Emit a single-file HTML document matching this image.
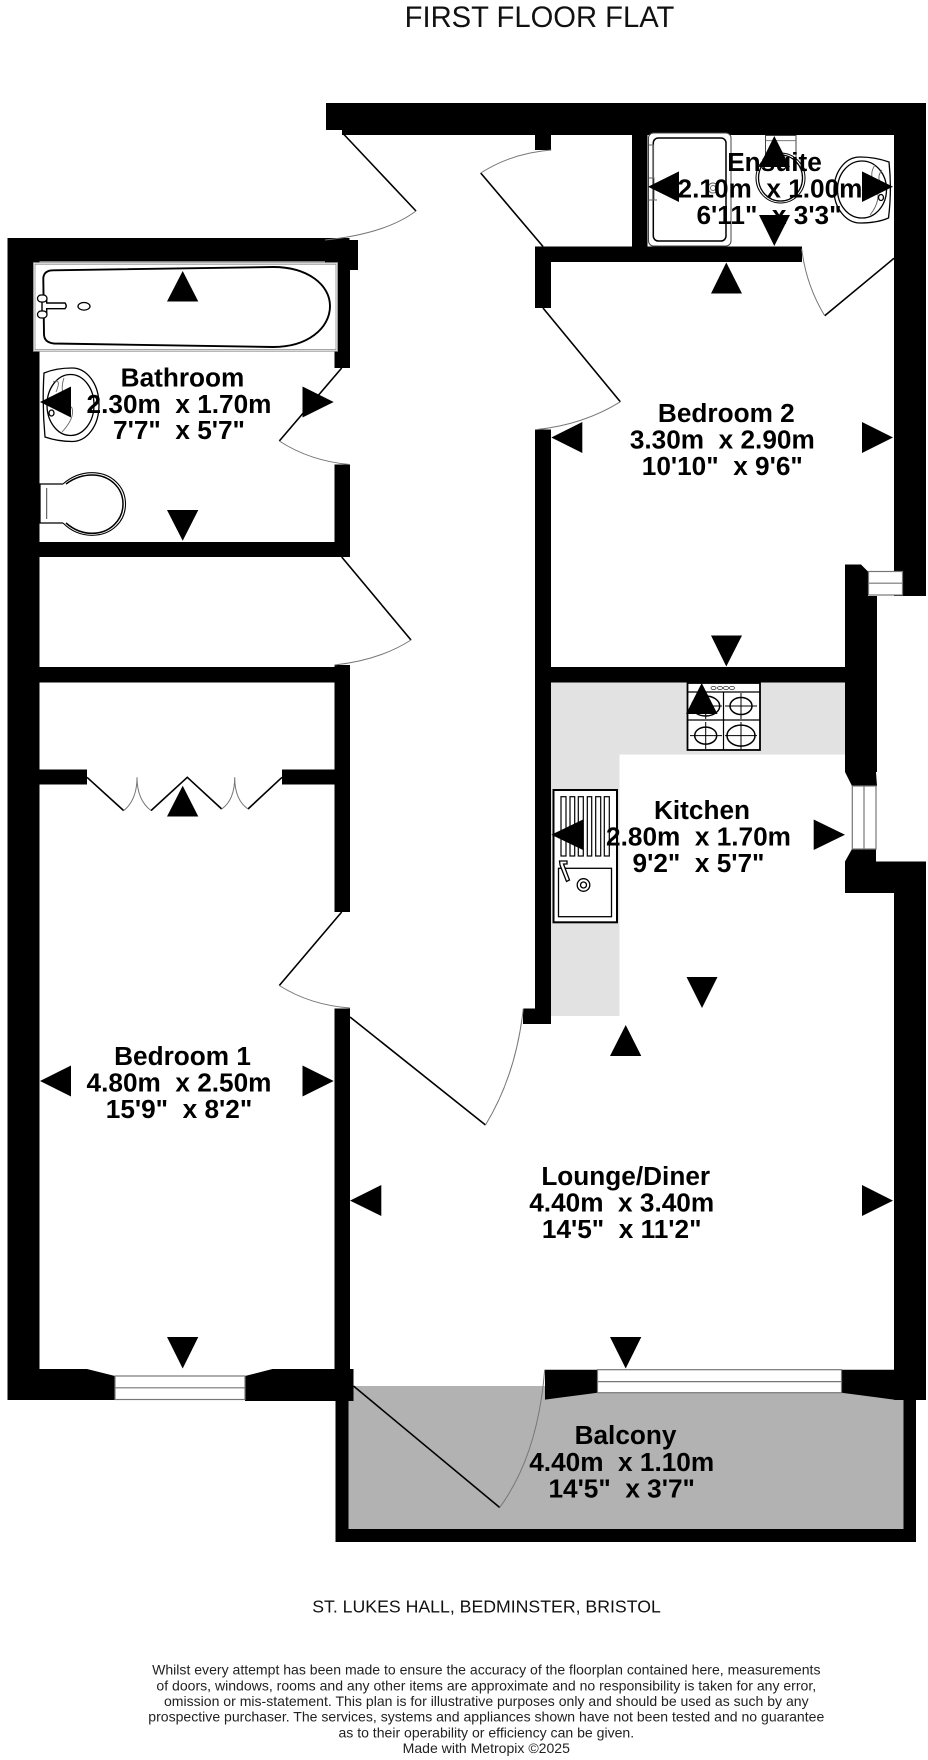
<!DOCTYPE html>
<html lang="en">
<head>
<meta charset="utf-8">
<title>First Floor Flat</title>
<style>
html,body{margin:0;padding:0;background:#fff}
svg{display:block}
text{font-family:"Liberation Sans",sans-serif;white-space:pre}
.r{font-weight:700;font-size:26.2px;fill:#000;text-anchor:middle}
.d{font-size:14.05px;fill:#222;text-anchor:middle}
.door{fill:none;stroke:#000;stroke-width:1.6}
.arc{fill:none;stroke:#777;stroke-width:1}
.fx{fill:#fff;stroke:#000;stroke-width:1.3}
.g{fill:none;stroke:#666;stroke-width:0.9}
</style>
</head>
<body>
<svg xmlns="http://www.w3.org/2000/svg" width="928" height="1760" viewBox="0 0 928 1760">
<rect width="928" height="1760" fill="#fff"/>

<!-- fills -->
<rect x="348" y="1386" width="556" height="144" fill="#b2b2b2"/>
<path d="M551 682H845V754.5H619.5V1016H551Z" fill="#e2e2e2"/>

<!-- walls -->
<g fill="#000">
<!-- top wall -->
<rect x="326" y="103" width="600" height="27"/>
<rect x="342" y="103" width="584" height="32"/>
<rect x="894" y="103" width="32" height="493"/>
<rect x="535" y="130" width="16" height="20"/>
<rect x="632" y="130" width="15.5" height="120"/>
<rect x="535" y="246.5" width="267" height="15.5"/>
<rect x="535" y="246.5" width="16" height="61.5"/>
<!-- centre wall -->
<rect x="535" y="429.5" width="16" height="594.5"/>
<rect x="523" y="1008.5" width="28" height="15.5"/>
<rect x="551" y="667" width="300" height="15.5"/>
<!-- right upper chimney -->
<path d="M845 564.5H861L868 571.5V596H877V772H876L877 786H852L845 772Z"/>
<path d="M852 849H876V861.5H926V1400H894V893H845V861.5Z"/>
<!-- left block -->
<rect x="7.5" y="238" width="32" height="1162"/>
<rect x="7.5" y="238" width="342" height="23.5"/>
<rect x="325" y="240" width="33" height="30"/>
<rect x="334.5" y="262" width="15.5" height="106"/>
<rect x="334.5" y="464.5" width="15.5" height="92.5"/>
<rect x="39" y="542" width="311" height="15"/>
<rect x="39" y="667" width="296" height="15.5"/>
<rect x="334.5" y="665" width="15.5" height="247"/>
<rect x="39" y="769.5" width="48" height="15"/>
<rect x="282" y="769.5" width="53" height="15"/>
<rect x="334.5" y="1008.5" width="15.5" height="361"/>
<!-- bedroom 1 bottom wall -->
<path d="M7.5 1369H87L115 1376V1400H7.5Z"/>
<path d="M245 1376L272.5 1369H353.5V1401H245Z"/>
<!-- balcony walls -->
<rect x="335.5" y="1400" width="13" height="142"/>
<rect x="335.5" y="1529" width="580.5" height="13"/>
<rect x="903.5" y="1400" width="12.5" height="142"/>
<!-- lounge window jambs -->
<path d="M545 1369.7H597.5V1392.7L545 1399.6Z"/>
<path d="M841.5 1369.7H894V1399.6L841.5 1392.7Z"/>
</g>

<!-- windows -->
<g fill="#fff" stroke="#777" stroke-width="1.2">
<rect x="115" y="1376" width="130" height="23.5"/>
<path d="M115 1387.8H245" fill="none"/>
<rect x="597.5" y="1369.7" width="244" height="23"/>
<path d="M597.5 1381.6H841.5" fill="none"/>
<rect x="868.5" y="571.5" width="34" height="23.5"/>
<path d="M868.5 583.2H902.5" fill="none"/>
<rect x="852.3" y="786" width="23.7" height="63"/>
<path d="M864 786V849" fill="none"/>
</g>

<!-- doors -->
<path class="door" d="M343.5 134L416 211"/>
<path class="arc" d="M416 211Q385 234 325 240"/>
<path class="door" d="M341.7 368L279.3 441"/>
<path class="arc" d="M279.3 441Q310 461 349.7 464.5"/>
<path class="door" d="M341.7 557L411 640"/>
<path class="arc" d="M411 640Q380 660 334.5 665"/>
<path class="door" d="M341.7 912L279.3 985.5"/>
<path class="arc" d="M279.3 985.5Q310 1005 350 1008"/>
<path class="door" d="M350 1017L485.5 1125"/>
<path class="arc" d="M485.5 1125Q516 1075 523.3 1008.5"/>
<path class="door" d="M353.5 1386L499.7 1507.5"/>
<path class="arc" d="M499.7 1507.5Q538 1455 544.7 1369.7"/>
<path class="door" d="M543 246.5L480.7 173"/>
<path class="arc" d="M480.7 173Q512 153 551.3 150"/>
<path class="door" d="M543 308L620.3 401.8"/>
<path class="arc" d="M620.3 401.8Q583 425 535.3 429.7"/>
<path class="door" d="M894 258.3L824.7 315.7"/>
<path class="arc" d="M824.7 315.7Q806 285 801.7 248.7"/>
<!-- closet bifold -->
<path class="door" d="M87 777.3L123.7 810.6M151 810.6L187.3 777.3L221.7 809M248 809L282 777.3"/>
<path class="arc" d="M123.7 810.6Q137 800 137 777.3Q137 800 151 810.6M221.7 809Q234.7 800 234.7 777.3Q234.7 800 248 809"/>

<!-- bath -->
<rect x="33.5" y="262.7" width="304" height="88.5" fill="#fff" stroke="#999" stroke-width="1"/>
<rect x="35" y="264.2" width="301" height="85.5" fill="none" stroke="#777" stroke-width="0.7"/>
<path fill="#fff" stroke="#000" stroke-width="1.9" d="M43.3 278Q44 270.3 53.3 270.3L273 267C308 267 330 285 330 306C330 328 308 347 273 347L54 343.5Q44 342.5 44 334Z"/>
<path fill="#fff" stroke="#000" stroke-width="1.4" d="M46.7 303H65Q67.5 306 65 308.7H46.7V313H42V299H46.7Z"/>
<rect x="37.5" y="295" width="9.5" height="7" rx="3.5" class="fx"/>
<rect x="37.5" y="311" width="9.5" height="7" rx="3.5" class="fx"/>
<ellipse cx="84" cy="306.3" rx="6" ry="3.8" class="fx"/>

<!-- bathroom basin -->
<path class="fx" d="M44 373Q56 368 72 368C87 368 99 384 99 405C99 426 87 441.5 72 441.5Q58 441.5 45 437Q42 405 44 373Z"/>
<ellipse cx="70.5" cy="405" rx="23.5" ry="30.5" class="fx"/>
<path class="g" d="M53 382Q62 378 56 392M64 378Q58 395 72 408Q75 418 62 432"/>
<ellipse cx="51.5" cy="413" rx="2.5" ry="3" class="fx"/>

<!-- bathroom toilet -->
<path class="fx" d="M63 484H40V523H63"/>
<path d="M46.7 488V519" stroke="#444" stroke-width="1" fill="none"/>
<path fill="#fff" stroke="#000" stroke-width="1.1" d="M63 484C72 476 82 472.7 92 472.7C112 472.7 125.5 487 125.5 504C125.5 521 112 535.3 92 535.3C82 535.3 72 532 63 523"/>
<path fill="none" stroke="#000" stroke-width="1.5" d="M66 484C74 478 83 475 92 475C110 475 123 488 123 504C123 520 110 533.3 92 533.3C83 533.3 74 530 66 523"/>

<!-- ensuite shower -->
<rect x="648.5" y="133" width="82.5" height="113" rx="5" fill="#fff" stroke="#444" stroke-width="1"/>
<rect x="653.3" y="138" width="72.7" height="103" rx="5" fill="#fff" stroke="#000" stroke-width="1.5"/>
<path class="g" d="M649 145H653.5V178H649M649 178H654V200H649M649 200H657"/>
<circle cx="713" cy="188" r="5" class="g"/>
<circle cx="713" cy="188" r="2.5" class="g"/>

<!-- ensuite toilet -->
<rect x="765.5" y="135.5" width="30.5" height="30" fill="#fff" stroke="#444" stroke-width="1"/>
<path d="M766 140.7H796" class="g"/>
<ellipse cx="780.5" cy="178" rx="24.5" ry="25" fill="#fff" stroke="#000" stroke-width="1"/>
<ellipse cx="780.5" cy="178" rx="22" ry="23" fill="#fff" stroke="#000" stroke-width="1.3"/>

<!-- ensuite basin -->
<path class="fx" d="M889 162Q875 157 860 157C845 157 834 172 834 190C834 208 846 223 860 223Q877 223 888.5 218Q892 190 889 162Z"/>
<ellipse cx="862" cy="189.5" rx="24.5" ry="28.5" class="fx"/>
<path class="g" d="M875 165Q868 175 876 186Q882 200 870 215M882 170Q877 176 880 182"/>
<ellipse cx="881" cy="197.5" rx="2.5" ry="3" class="fx"/>

<!-- hob -->
<g fill="none" stroke="#000">
<rect x="687.5" y="683" width="72.5" height="67" fill="#fff" stroke-width="1.8"/>
<path d="M687.5 692H760M723.5 692V750M687.5 720H760" stroke-width="1.2"/>
<ellipse cx="705.7" cy="706" rx="14" ry="10" stroke-width="1.5"/>
<ellipse cx="741" cy="706" rx="11" ry="8.5" stroke-width="1.5"/>
<ellipse cx="705.7" cy="735.6" rx="11" ry="8.5" stroke-width="1.5"/>
<ellipse cx="741" cy="735.6" rx="14" ry="10.5" stroke-width="1.5"/>
<path d="M705.7 693V719M690 706H722M741 693V719M725 706H757M705.7 722V749M690 735.6H722M741 722V749M725 735.6H757" stroke-width="1"/>
<g stroke-width="0.8" stroke="#333"><ellipse cx="713.5" cy="688" rx="2.5" ry="1.6"/><ellipse cx="720" cy="688" rx="2.5" ry="1.6"/><ellipse cx="726" cy="688" rx="2.5" ry="1.6"/><ellipse cx="732" cy="688" rx="2.5" ry="1.6"/></g>
</g>

<!-- sink -->
<g stroke="#000" fill="#fff">
<rect x="553.5" y="790" width="63.5" height="132.3" stroke-width="2"/>
<rect x="558.5" y="868.3" width="53" height="48.4" stroke-width="1.3"/>
<g stroke-width="1.2">
<rect x="561" y="796.7" width="5" height="59.3"/>
<rect x="570" y="796.7" width="4.7" height="59.3"/>
<rect x="578.3" y="796.7" width="5" height="59.3"/>
<rect x="587.3" y="796.7" width="4.4" height="59.3"/>
<rect x="595.7" y="796.7" width="5" height="59.3"/>
<rect x="604.3" y="796.7" width="5" height="59.3"/>
</g>
<circle cx="583.5" cy="885" r="6.3" stroke-width="1.3"/>
<circle cx="583.5" cy="885" r="3" stroke-width="1.3"/>
<path d="M559.5 861H567V864H563.5L569.5 880L566.5 881.5L560 865Z" stroke-width="1.3"/>
</g>

<!-- text -->
<text x="539.5" y="27" font-size="29.2" text-anchor="middle" fill="#111">FIRST FLOOR FLAT</text>

<text class="r" x="182.5" y="386.5">Bathroom</text>
<text class="r" x="179" y="413">2.30m  x 1.70m</text>
<text class="r" x="179" y="439">7'7"  x 5'7"</text>

<text class="r" x="774.5" y="171">Ensuite</text>
<text class="r" x="770" y="197.5">2.10m  x 1.00m</text>
<text class="r" x="769" y="224">6'11"  x 3'3"</text>

<text class="r" x="726.3" y="422">Bedroom 2</text>
<text class="r" x="722.3" y="448.5">3.30m  x 2.90m</text>
<text class="r" x="722.3" y="475">10'10"  x 9'6"</text>

<text class="r" x="702" y="819">Kitchen</text>
<text class="r" x="698.5" y="845.5">2.80m  x 1.70m</text>
<text class="r" x="698.5" y="872">9'2"  x 5'7"</text>

<text class="r" x="182.5" y="1065">Bedroom 1</text>
<text class="r" x="179" y="1091.5">4.80m  x 2.50m</text>
<text class="r" x="179" y="1118">15'9"  x 8'2"</text>

<text class="r" x="625.7" y="1185">Lounge/Diner</text>
<text class="r" x="621.7" y="1211.5">4.40m  x 3.40m</text>
<text class="r" x="621.7" y="1238">14'5"  x 11'2"</text>

<text class="r" x="625.5" y="1444">Balcony</text>
<text class="r" x="621.7" y="1471">4.40m  x 1.10m</text>
<text class="r" x="621.7" y="1497.5">14'5"  x 3'7"</text>

<!-- arrows -->
<g fill="#000">
<path d="M182.7 271L198.3 301.5H167Z"/>
<path d="M182.7 540.7L198.3 510H167Z"/>
<path d="M40 402L71 386.5V417.5Z"/>
<path d="M333.7 402L302.5 386.5V417.5Z"/>

<path d="M40 1081L71 1065.5V1096.5Z"/>
<path d="M333.7 1081L302.5 1065.5V1096.5Z"/>
<path d="M182.7 785.8L198.3 816.5H167Z"/>
<path d="M182.7 1368.5L198.3 1337H167Z"/>

<path d="M726.3 262.5L742 293.5H711Z"/>
<path d="M726.3 666.5L742 635.5H711Z"/>
<path d="M551.3 437.5L582.3 422V453Z"/>
<path d="M893 437.5L862 422V453Z"/>

<path d="M774.3 136L790 167H759Z"/>
<path d="M774.3 246L790 215H759Z"/>
<path d="M648 186.7L679 171.4V202Z"/>
<path d="M893 186.7L862 171.4V202Z"/>

<path d="M701.7 683L717.5 714H686Z"/>
<path d="M702 1008L717.5 977H686.5Z"/>
<path d="M551.3 834.8L583 819.5V850Z"/>
<path d="M845 834.8L813.7 819.5V850Z"/>

<path d="M625.7 1025L641.3 1056H610Z"/>
<path d="M625.7 1368.5L641.3 1337H610Z"/>
<path d="M350 1200.6L381.3 1185V1216Z"/>
<path d="M893 1200.6L862 1185V1216Z"/>
</g>

<!-- footer -->
<text x="486.5" y="1612.7" font-size="17.7" text-anchor="middle" fill="#111">ST. LUKES HALL, BEDMINSTER, BRISTOL</text>
<text class="d" x="486.3" y="1674.7">Whilst every attempt has been made to ensure the accuracy of the floorplan contained here, measurements</text>
<text class="d" x="486.3" y="1690.4">of doors, windows, rooms and any other items are approximate and no responsibility is taken for any error,</text>
<text class="d" x="486.3" y="1706">omission or mis-statement. This plan is for illustrative purposes only and should be used as such by any</text>
<text class="d" x="486.3" y="1721.7">prospective purchaser. The services, systems and appliances shown have not been tested and no guarantee</text>
<text class="d" x="486.3" y="1737.5">as to their operability or efficiency can be given.</text>
<text class="d" x="486.3" y="1752.8">Made with Metropix ©2025</text>
</svg>
</body>
</html>
